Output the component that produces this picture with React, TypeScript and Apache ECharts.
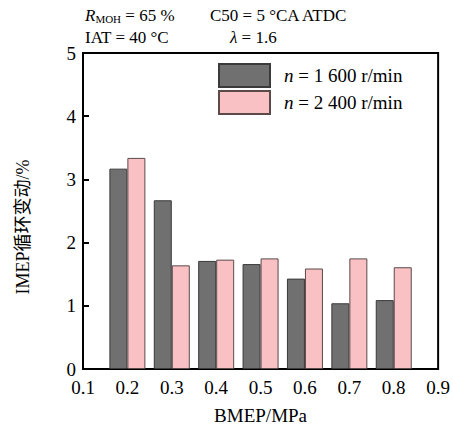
import React, { useEffect, useRef } from "react";
import * as echarts from "echarts";

const bmep = [0.2, 0.3, 0.4, 0.5, 0.6, 0.7, 0.8];
const cov1600 = [3.17, 2.67, 1.71, 1.66, 1.43, 1.04, 1.09];
const cov2400 = [3.34, 1.64, 1.73, 1.75, 1.59, 1.75, 1.61];
const seriesNames = ["n = 1 600 r/min", "n = 2 400 r/min"];

const FONT = "'Liberation Serif', 'Times New Roman', serif";

export default function App() {
  const ref = useRef<HTMLDivElement>(null);
  useEffect(() => {
    const chart = echarts.init(ref.current!, null, { renderer: "svg" });
    const rich = {
      i: { fontStyle: "italic", fontFamily: FONT, fontSize: 17, color: "#000" },
      s: { fontFamily: FONT, fontSize: 11, color: "#000", verticalAlign: "bottom", padding: [6, 0, 0, 0] },
      t: { fontFamily: FONT, fontSize: 17, color: "#000" },
    };
    const legRich = {
      i: { fontStyle: "italic", fontFamily: FONT, fontSize: 19, color: "#000" },
      t: { fontFamily: FONT, fontSize: 19, color: "#000" },
    };
    chart.setOption({
      animation: false,
      textStyle: { fontFamily: FONT },
      grid: { left: 83, right: 11, top: 53, bottom: 55, show: true, borderColor: "#000", borderWidth: 2, backgroundColor: "transparent" },
      legend: {
        orient: "vertical",
        left: 218,
        top: 63,
        padding: 0,
        itemWidth: 51,
        itemHeight: 23,
        itemGap: 2,
        icon: "rect",
        data: seriesNames,
        formatter: (name: string) => "{i|n}{t|" + name.slice(1) + "}",
        textStyle: { rich: legRich, padding: [0, 0, 0, 9] },
      },
      xAxis: {
        type: "value",
        min: 0.1,
        max: 0.9,
        interval: 0.1,
        name: "BMEP/MPa",
        nameLocation: "middle",
        nameGap: 37,
        nameTextStyle: { fontFamily: FONT, fontSize: 19, color: "#000" },
        axisLine: { lineStyle: { color: "#000", width: 2 } },
        axisTick: { show: false },
        splitLine: { show: false },
        axisLabel: { fontFamily: FONT, fontSize: 19, color: "#000", margin: 9, formatter: (v: number) => v.toFixed(1) },
      },
      yAxis: {
        type: "value",
        min: 0,
        max: 5,
        interval: 1,
        axisLine: { show: true, lineStyle: { color: "#000", width: 2 } },
        axisTick: { show: true, inside: true, length: 6, lineStyle: { color: "#000", width: 2 } },
        splitLine: { show: false },
        axisLabel: { fontFamily: FONT, fontSize: 19, color: "#000", margin: 7 },
      },
      graphic: [
        {
          type: "text",
          x: 23,
          y: 227,
          rotation: Math.PI / 2,
          style: {
            text: "IMEP循环变动/%",
            font: "18px 'Liberation Serif', 'Noto Sans CJK SC', serif",
            fill: "#000",
            align: "center",
            verticalAlign: "middle",
          },
        },
        {
          type: "text",
          x: 85,
          y: 7,
          style: { text: "{i|R}{s|MOH}{t| = 65 %}", rich, fill: "#000" },
        },
        {
          type: "text",
          x: 210,
          y: 7,
          style: { text: "{t|C50 = 5 °CA ATDC}", rich, fill: "#000" },
        },
        {
          type: "text",
          x: 85,
          y: 29,
          style: { text: "{t|IAT = 40 °C}", rich, fill: "#000" },
        },
        {
          type: "text",
          x: 230,
          y: 29,
          style: { text: "{i|λ}{t| = 1.6}", rich, fill: "#000" },
        },
      ],
      series: [
        {
          name: seriesNames[0],
          type: "bar",
          barWidth: 18,
          barGap: "0%",
          data: bmep.map((x, i) => [x, cov1600[i]]),
          itemStyle: { color: "#707070", borderColor: "#3a3a3a", borderWidth: 1 },
        },
        {
          name: seriesNames[1],
          type: "bar",
          barWidth: 18,
          barGap: "0%",
          data: bmep.map((x, i) => [x, cov2400[i]]),
          itemStyle: { color: "#f9c1c3", borderColor: "#5a4a4a", borderWidth: 1 },
        },
      ],
    });
    return () => chart.dispose();
  }, []);
  return <div ref={ref} style={{ width: 453, height: 430, position: "absolute", left: 0, top: 0 }} />;
}
